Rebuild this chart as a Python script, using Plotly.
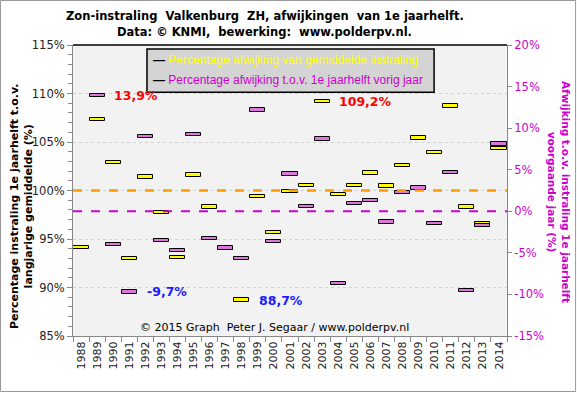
import plotly.graph_objects as go

years = [str(y) for y in range(1988, 2015)]
# % of long-term average (left axis)
pct_avg = [94.1, 107.3, 102.9, 93.0, 101.4, 97.7, 93.1, 101.6, 98.3, 94.0,
           88.7, 99.4, 95.7, 99.9, 100.55, 109.2, 99.6, 100.55, 101.8, 100.45,
           102.6, 105.4, 103.9, 108.7, 98.3, 96.55, 104.35]
# % change vs previous year (right axis)
pct_prev = [None, 13.9, -4.0, -9.7, 9.0, -3.5, -4.7, 9.2, -3.3, -4.4,
            -5.7, 12.2, -3.6, 4.5, 0.6, 8.7, -8.7, 0.9, 1.3, -1.3,
            2.3, 2.8, -1.45, 4.7, -9.5, -1.7, 8.1]
left_ticks = [85, 90, 95, 100, 105, 110, 115]
right_ticks = [-15, -10, -5, 0, 5, 10, 15, 20]

FONT = "DejaVu Sans"
YEL = "#FFFF00"
PINK = "#DD77DD"
MAG = "#CC00CC"

h1 = 0.34   # marker height in left-axis units
h2 = 0.40   # marker height in right-axis units

fig = go.Figure()
fig.add_trace(go.Bar(
    x=years, y=[h1 for v in pct_avg], base=[v - h1 / 2 for v in pct_avg],
    width=0.94, marker=dict(color=YEL, line=dict(color="black", width=1)),
    yaxis="y", showlegend=False))
fig.add_trace(go.Bar(
    x=years, y=[None if v is None else h2 for v in pct_prev],
    base=[None if v is None else v - h2 / 2 for v in pct_prev],
    width=0.94, marker=dict(color=PINK, line=dict(color="black", width=1)),
    yaxis="y2", showlegend=False))

fig.update_layout(
    width=577, height=393,
    margin=dict(l=73, r=70, t=45, b=57, autoexpand=False),
    paper_bgcolor="white", plot_bgcolor="#F2F2F2",
    barmode="overlay", bargap=0,
    font=dict(family=FONT, size=11, color="#222222"),
    xaxis=dict(type="category", range=[-0.5, 26.5], tickangle=-90, automargin=False,
               tickson="boundaries", ticks="outside", ticklen=5, tickcolor="#888888",
               showline=True, linecolor="#888888", showgrid=False,
               tickfont=dict(family=FONT, size=11, color="#222222")),
    yaxis=dict(range=[85, 115], tickvals=left_ticks, automargin=False,
               ticktext=[f"{v}%" for v in left_ticks],
               ticks="outside", ticklen=5, tickcolor="#888888",
               showline=True, linecolor="#888888",
               showgrid=True, gridcolor="#D0D0D0", griddash="dot", gridwidth=1,
               minor=dict(dtick=1, ticks="outside", ticklen=4, tickcolor="#888888", showgrid=False),
               zeroline=False, tickfont=dict(family=FONT, size=11.5, color="#222222")),
    yaxis2=dict(range=[-15, 20], overlaying="y", side="right", automargin=False,
                tickvals=right_ticks, ticktext=[f"{v}%" for v in right_ticks],
                ticks="outside", ticklen=4, tickcolor="#888888",
                showline=True, linecolor="#888888", showgrid=False, zeroline=False,
                tickfont=dict(family=FONT, size=11.5, color=MAG)),
)

# reference lines
fig.add_shape(type="line", xref="paper", x0=0, x1=1, yref="y", y0=100, y1=100,
              line=dict(color="#FF9A00", width=2.5, dash="dash"), layer="above")
fig.add_shape(type="line", xref="paper", x0=0, x1=1, yref="y2", y0=0, y1=0,
              line=dict(color=MAG, width=2, dash="dash"), layer="above")
# top frame line
fig.add_shape(type="line", xref="paper", yref="paper", x0=0, x1=1, y0=1, y1=1,
              line=dict(color="black", width=1.5))
# outer border
fig.add_shape(type="rect", xref="paper", yref="paper", x0=-0.167, x1=1.158,
              y0=-0.1907, y1=1.153, line=dict(color="#999999", width=1))

# legend box
fig.add_shape(type="rect", xref="paper", yref="paper", x0=0.1705, x1=0.832,
              y0=0.838, y1=0.986, fillcolor="#D4D4D4", line=dict(color="black", width=1.5))
fig.add_annotation(xref="paper", yref="paper", x=0.179, y=0.948, xanchor="left", yanchor="middle",
                   showarrow=False, font=dict(family="Liberation Sans", size=12),
                   text="<span style='color:black'><b>\u2014</b></span> <span style='color:#FFFF00'>Percentage afwijking van gemiddelde instraling</span>")
fig.add_annotation(xref="paper", yref="paper", x=0.179, y=0.879, xanchor="left", yanchor="middle",
                   showarrow=False, font=dict(family="Liberation Sans", size=12),
                   text="<span style='color:black'><b>\u2014</b></span> <span style='color:#CC00CC'>Percentage afwijking t.o.v. 1e jaarhelft vorig jaar</span>")

# titles
fig.add_annotation(xref="paper", yref="paper", x=0.442, y=1.0 + (45 - 16) / 291, showarrow=False,
                   xanchor="center", yanchor="middle",
                   font=dict(family=FONT, size=11.5, color="black"),
                   text="<b>Zon-instraling\u00a0 Valkenburg\u00a0 ZH, afwijkingen\u00a0 van 1e jaarhelft.</b>")
fig.add_annotation(xref="paper", yref="paper", x=0.442, y=1.0 + (45 - 32) / 291, showarrow=False,
                   xanchor="center", yanchor="middle",
                   font=dict(family=FONT, size=11.5, color="black"),
                   text="<b>Data: \u00a9 KNMI,\u00a0 bewerking:\u00a0 www.polderpv.nl.</b>")
fig.add_annotation(xref="paper", yref="paper", x=(21 - 73) / 434, y=(336 - 207) / 291,
                   showarrow=False, textangle=-90, xanchor="center", yanchor="middle",
                   font=dict(family=FONT, size=11, color="black"),
                   text="<b>Percentage instraling 1e jaarhelft t.o.v.<br>langjarige gemiddelde (%)</b>")
fig.add_annotation(xref="paper", yref="paper", x=(559 - 73) / 434, y=(336 - 192) / 291,
                   showarrow=False, textangle=90, xanchor="center", yanchor="middle",
                   font=dict(family=FONT, size=10.5, color=MAG),
                   text="<b>Afwijking t.o.v. instraling 1e jaarhelft<br>voorgaande jaar (%)</b>")
fig.add_annotation(xref="paper", yref="paper", x=0.465, y=(336 - 327) / 291, showarrow=False,
                   xanchor="center", yanchor="middle",
                   font=dict(family=FONT, size=11, color="black"),
                   text="\u00a9 2015 Graph\u00a0 Peter J. Segaar / www.polderpv.nl")

# value labels
def fmt(v):
    return f"{v:.1f}".replace(".", ",") + "%"

valid_prev = [(i, v) for i, v in enumerate(pct_prev) if v is not None]
i_max2, v_max2 = max(valid_prev, key=lambda t: t[1])
i_min2, v_min2 = min(valid_prev, key=lambda t: t[1])
i_max1 = max(range(len(pct_avg)), key=lambda i: pct_avg[i])
i_min1 = min(range(len(pct_avg)), key=lambda i: pct_avg[i])
for i, v, ax, col in [(i_max2, v_max2, "y2", "#FF0000"), (i_min2, v_min2, "y2", "#1A1AFF"),
                      (i_max1, pct_avg[i_max1], "y", "#FF0000"), (i_min1, pct_avg[i_min1], "y", "#1A1AFF")]:
    fig.add_annotation(x=i + 0.95, y=v, xref="x", yref=ax, showarrow=False,
                       xanchor="left", yanchor="middle",
                       font=dict(family=FONT, size=12.5, color=col), text=f"<b>{fmt(v)}</b>")

fig.write_html("out.html", config={"displayModeBar": False},
               post_script="document.body.style.margin='0px';")
